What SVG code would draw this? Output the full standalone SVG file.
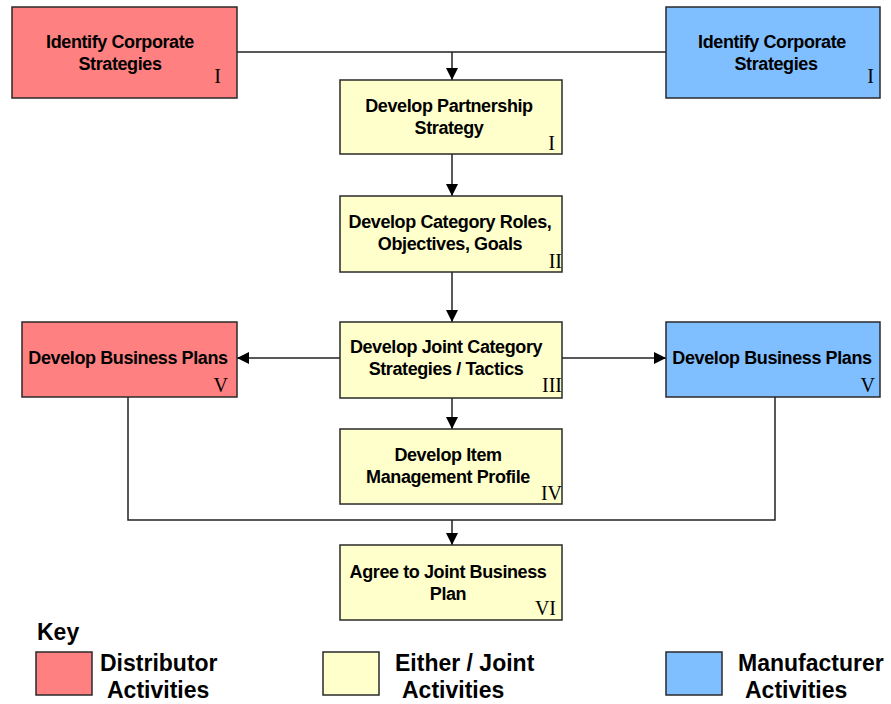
<svg xmlns="http://www.w3.org/2000/svg" width="891" height="704" viewBox="0 0 891 704">
  <defs>
    <marker id="arrow" viewBox="0 0 12 12" refX="12" refY="6" markerWidth="12" markerHeight="12" markerUnits="userSpaceOnUse" orient="auto">
      <path d="M0,0 L12,6 L0,12 z" fill="#000"/>
    </marker>
    <style>
      .box { stroke: #2a2a2a; stroke-width: 1.5; }
      .dist { fill: #ff8080; }
      .joint { fill: #ffffcc; }
      .manu { fill: #80bfff; }
      .lbl { font-family: "Liberation Sans", Arial, sans-serif; font-weight: bold; font-size: 18px; fill: #000; text-anchor: middle; letter-spacing: -0.4px; }
      .num { font-family: "Liberation Serif", "Times New Roman", serif; font-size: 20px; fill: #000; text-anchor: end; }
      .conn { stroke: #222; stroke-width: 1.5; fill: none; }
      .key { font-family: "Liberation Sans", Arial, sans-serif; font-weight: bold; font-size: 23px; fill: #000; }
    </style>
  </defs>

  <rect width="891" height="704" fill="#ffffff"/>

  <!-- connectors -->
  <g id="connectors">
    <path class="conn" d="M237,52 H666"/>
    <path class="conn" d="M452,52 V80" marker-end="url(#arrow)"/>
    <path class="conn" d="M452,154 V196" marker-end="url(#arrow)"/>
    <path class="conn" d="M452,272 V322" marker-end="url(#arrow)"/>
    <path class="conn" d="M340,358 H237" marker-end="url(#arrow)"/>
    <path class="conn" d="M562,358 H666" marker-end="url(#arrow)"/>
    <path class="conn" d="M452,398 V429" marker-end="url(#arrow)"/>
    <path class="conn" d="M128,397 V520 H775 V397"/>
    <path class="conn" d="M452,520 V545" marker-end="url(#arrow)"/>
  </g>

  <!-- distributor: corporate strategies -->
  <g id="dist-corporate">
    <rect class="box dist" x="12" y="7" width="225" height="91"/>
    <text class="lbl" x="120" y="48">Identify Corporate</text>
    <text class="lbl" x="120" y="70">Strategies</text>
    <text class="num" x="221" y="83">I</text>
  </g>

  <!-- manufacturer: corporate strategies -->
  <g id="manu-corporate">
    <rect class="box manu" x="666" y="7" width="214" height="91"/>
    <text class="lbl" x="772" y="48">Identify Corporate</text>
    <text class="lbl" x="776" y="70">Strategies</text>
    <text class="num" x="874" y="83">I</text>
  </g>

  <!-- joint: partnership strategy -->
  <g id="partnership">
    <rect class="box joint" x="340" y="80" width="222" height="74"/>
    <text class="lbl" x="449" y="112">Develop Partnership</text>
    <text class="lbl" x="449" y="134">Strategy</text>
    <text class="num" x="555" y="150">I</text>
  </g>

  <!-- joint: category roles -->
  <g id="category-roles">
    <rect class="box joint" x="340" y="196" width="222" height="76"/>
    <text class="lbl" x="450" y="228">Develop Category Roles,</text>
    <text class="lbl" x="450" y="250">Objectives, Goals</text>
    <text class="num" x="562" y="268">II</text>
  </g>

  <!-- joint: category strategies -->
  <g id="category-strategies">
    <rect class="box joint" x="340" y="322" width="222" height="76"/>
    <text class="lbl" x="446" y="353">Develop Joint Category</text>
    <text class="lbl" x="446" y="375">Strategies / Tactics</text>
    <text class="num" x="562" y="392">III</text>
  </g>

  <!-- distributor: business plans -->
  <g id="dist-business">
    <rect class="box dist" x="22" y="322" width="215" height="75"/>
    <text class="lbl" x="128" y="364">Develop Business Plans</text>
    <text class="num" x="228" y="392">V</text>
  </g>

  <!-- manufacturer: business plans -->
  <g id="manu-business">
    <rect class="box manu" x="666" y="322" width="214" height="75"/>
    <text class="lbl" x="772" y="364">Develop Business Plans</text>
    <text class="num" x="875" y="392">V</text>
  </g>

  <!-- joint: item management -->
  <g id="item-profile">
    <rect class="box joint" x="340" y="429" width="222" height="75"/>
    <text class="lbl" x="448" y="461">Develop Item</text>
    <text class="lbl" x="448" y="483">Management Profile</text>
    <text class="num" x="562" y="500">IV</text>
  </g>

  <!-- joint: business plan agreement -->
  <g id="agree-plan">
    <rect class="box joint" x="340" y="545" width="222" height="75"/>
    <text class="lbl" x="448" y="578">Agree to Joint Business</text>
    <text class="lbl" x="448" y="600">Plan</text>
    <text class="num" x="556" y="615">VI</text>
  </g>

  <!-- legend -->
  <g id="legend">
    <text class="key" x="37" y="640">Key</text>
    <rect class="box dist" x="36" y="652" width="56" height="43"/>
    <text class="key" x="100" y="671">Distributor</text>
    <text class="key" x="107" y="698">Activities</text>
    <rect class="box joint" x="323" y="652" width="56" height="43"/>
    <text class="key" x="395" y="671">Either / Joint</text>
    <text class="key" x="402" y="698">Activities</text>
    <rect class="box manu" x="666" y="652" width="56" height="43"/>
    <text class="key" x="738" y="671">Manufacturer</text>
    <text class="key" x="745" y="698">Activities</text>
  </g>
</svg>
